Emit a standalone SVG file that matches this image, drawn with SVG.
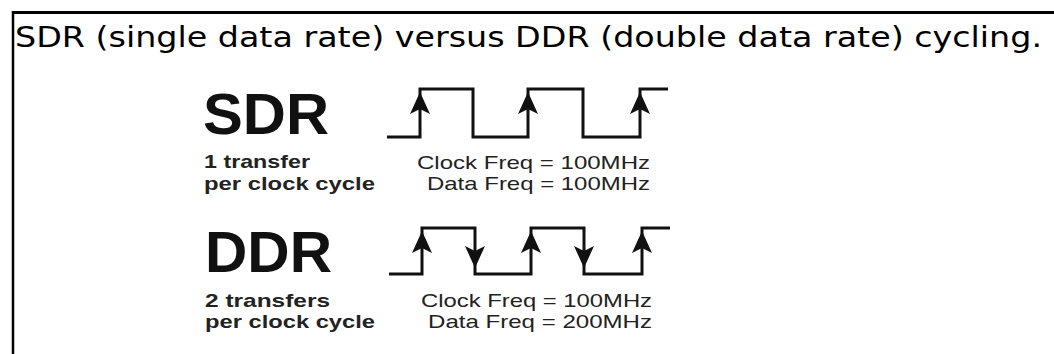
<svg xmlns="http://www.w3.org/2000/svg" xmlns:xlink="http://www.w3.org/1999/xlink" width="1054" height="354" viewBox="0 0 1054 354">
  <style>
    .title { font-family: "DejaVu Sans", "Liberation Sans", sans-serif; font-size: 28px; fill: #000; }
    .big { font-family: "Liberation Sans", Arial, sans-serif; font-weight: bold; font-size: 58px; fill: #111; }
    .sub { font-family: "Liberation Sans", Arial, sans-serif; font-weight: bold; font-size: 19px; fill: #222; }
    .freq { font-family: "Liberation Sans", Arial, sans-serif; font-size: 19px; fill: #222; }
    .wave { fill: none; stroke: #111; stroke-width: 3; stroke-linejoin: miter; stroke-linecap: butt; }
    .frame { fill: none; stroke: #000; }
  </style>
  <defs>
    <path id="arrowUp" d="M0,0 L10,22 L0,17 L-10,22 Z" fill="#111"/>
    <path id="arrowDown" d="M0,0 L10,-22 L0,-17 L-10,-22 Z" fill="#111"/>
  </defs>
  <rect x="0" y="0" width="1054" height="354" fill="#fff"/>

  <g id="frame">
    <line class="frame" x1="13" y1="12.5" x2="1054" y2="12.5" stroke-width="3"/>
    <line class="frame" x1="13" y1="11" x2="13" y2="354" stroke-width="2.5"/>
  </g>

  <g id="title">
    <text class="title" x="15" y="47" textLength="1027" lengthAdjust="spacingAndGlyphs">SDR (single data rate) versus DDR (double data rate) cycling.</text>
  </g>

  <g id="sdr">
    <text class="big" x="203" y="134" textLength="126" lengthAdjust="spacingAndGlyphs">SDR</text>
    <text class="sub" x="204" y="168" textLength="106" lengthAdjust="spacingAndGlyphs">1 transfer</text>
    <text class="sub" x="204" y="190" textLength="171" lengthAdjust="spacingAndGlyphs">per clock cycle</text>
    <text class="freq" x="417" y="169" textLength="233" lengthAdjust="spacingAndGlyphs">Clock Freq = 100MHz</text>
    <text class="freq" x="427" y="190" textLength="223" lengthAdjust="spacingAndGlyphs">Data Freq = 100MHz</text>
  </g>

  <g id="ddr">
    <text class="big" x="205" y="272" textLength="127" lengthAdjust="spacingAndGlyphs">DDR</text>
    <text class="sub" x="205" y="307" textLength="125" lengthAdjust="spacingAndGlyphs">2 transfers</text>
    <text class="sub" x="205" y="328" textLength="170" lengthAdjust="spacingAndGlyphs">per clock cycle</text>
    <text class="freq" x="421" y="307" textLength="231" lengthAdjust="spacingAndGlyphs">Clock Freq = 100MHz</text>
    <text class="freq" x="428" y="328" textLength="224" lengthAdjust="spacingAndGlyphs">Data Freq = 200MHz</text>
  </g>

  <g id="connectors">
    <g id="sdr-wave">
      <path class="wave" d="M387,137 H420 V89 H473 V137 H528 V89 H583 V137 H640 V89 H668"/>
      <use xlink:href="#arrowUp" x="420" y="92"/>
      <use xlink:href="#arrowUp" x="528" y="92"/>
      <use xlink:href="#arrowUp" x="640" y="92"/>
    </g>
    <g id="ddr-wave">
      <path class="wave" d="M389,274 H422 V228 H475 V274 H531 V228 H584 V274 H642 V228 H670"/>
      <use xlink:href="#arrowUp" x="422" y="231"/>
      <use xlink:href="#arrowDown" x="475" y="268"/>
      <use xlink:href="#arrowUp" x="531" y="231"/>
      <use xlink:href="#arrowDown" x="584" y="268"/>
      <use xlink:href="#arrowUp" x="642" y="231"/>
    </g>
  </g>
</svg>
